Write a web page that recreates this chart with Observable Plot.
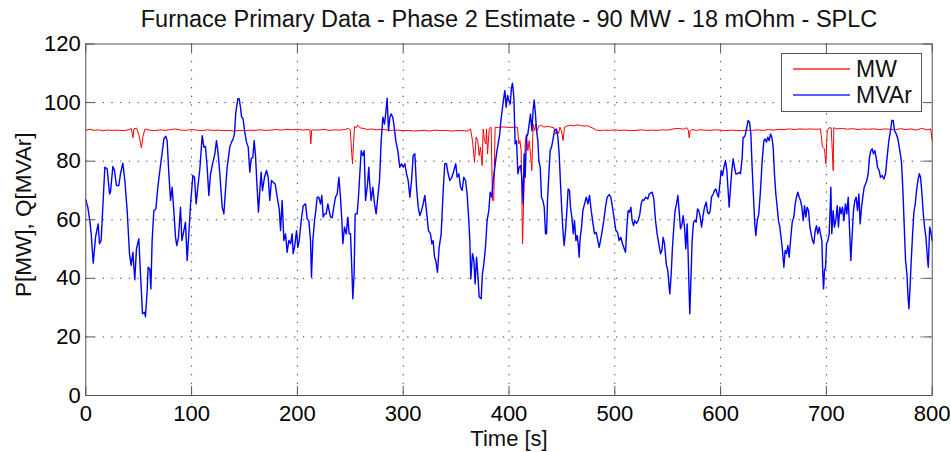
<!DOCTYPE html>
<html>
<head>
<meta charset="utf-8">
<script src="https://cdn.jsdelivr.net/npm/d3@7"></script>
<script src="https://cdn.jsdelivr.net/npm/@observablehq/plot@0.6"></script>
<style>
  body { margin: 0; background: #fff; }
  #wrap { position: relative; width: 951px; height: 452px; font-family: "Liberation Sans", Arial, sans-serif; }
</style>
</head>
<body>
<div id="wrap"></div>
<script>
// ---------- data ----------
const title = "Furnace Primary Data - Phase 2 Estimate - 90 MW - 18 mOhm - SPLC";
const xLabel = "Time [s]";
const yLabel = "P[MW], Q[MVAr]";
const seriesNames = ["MW", "MVAr"];
const seriesColors = ["#ff0000", "#0000ff"];
const xTicks = [0, 100, 200, 300, 400, 500, 600, 700, 800];
const yTicks = [0, 20, 40, 60, 80, 100, 120];

// MVAr (blue)
const tQ = [0,1.9,3.8,5.1,7.0,9.2,10.7,11.7,12.9,14.5,16.4,18.0,20.2,22.4,23.3,25.6,27.1,29.0,31.2,32.8,35.0,36.9,39.1,41.3,42.9,44.5,46.3,47.9,50.1,51.7,53.6,55.5,56.4,58.0,58.9,60.5,61.5,62.7,64.3,66.2,68.1,70.0,72.2,73.8,75.6,76.9,78.5,80.1,81.6,83.2,84.8,86.0,87.6,89.5,90.8,92.7,94.2,95.8,97.4,99.0,101.2,102.7,104.3,105.9,107.8,110.0,111.6,113.1,114.7,116.3,117.9,120.1,122.0,123.5,124.8,126.7,
128.9,130.5,132.0,133.6,136.1,137.7,139.3,140.5,141.8,143.7,145.0,146.2,147.2,148.7,150.0,151.9,153.5,155.0,156.3,157.9,159.1,160.4,161.9,163.2,164.5,165.7,167.0,168.9,170.8,172.4,173.9,175.5,177.1,179.0,180.9,182.8,184.1,185.6,187.2,188.8,190.3,191.9,193.5,195.0,196.0,197.3,199.2,200.4,201.7,203.6,205.5,207.7,209.2,210.8,212.4,213.3,214.6,216.2,217.4,218.7,220.2,221.8,223.1,224.4,225.6,227.2,228.8,230.0,231.3,232.9,234.4,236.0,237.6,239.2,240.7,242.0,243.0,244.5,246.1,247.7,248.9,250.2,251.4,252.4,253.6,254.6,256.5,257.7,259.0,260.3,261.8,263.1,264.4,266.0,267.5,
268.1,269.7,271.3,272.9,274.4,276.0,277.6,279.2,280.8,282.3,283.6,284.8,286.1,287.4,288.6,290.2,291.5,293.0,294.9,296.8,298.4,300.0,301.6,303.1,304.7,306.3,307.9,309.4,311.0,312.6,314.2,315.7,317.3,318.9,320.4,322.0,323.9,325.8,327.0,328.3,329.6,330.8,332.4,334.0,335.9,337.8,339.3,340.9,342.5,344.1,346.0,347.9,349.7,351.0,352.6,354.2,355.7,357.3,358.9,360.4,362.0,363.0,363.9,365.5,366.8,368.0,369.3,370.5,371.8,373.7,374.9,376.2,377.8,379.3,380.9,382.2,383.8,385.0,386.6,388.2,389.7,391.3,
392.0,393.5,395.1,396.1,397.3,398.6,399.8,401.1,402.4,403.3,404.6,405.8,407.1,408.4,409.6,410.9,412.1,413.4,414.3,415.3,416.5,417.8,419.1,420.3,421.6,422.8,423.8,425.0,426.0,427.3,428.2,429.5,430.7,432.0,433.3,434.5,435.5,436.4,437.7,438.9,440.2,441.4,443.0,444.6,446.2,447.4,448.7,449.9,451.2,452.1,453.4,454.7,455.9,457.2,458.1,459.4,460.7,461.9,463.2,464.4,465.4,466.3,467.3,468.6,469.8,471.4,473.0,474.6,476.1,477.7,479.2,480.8,482.4,484.0,485.2,486.5,488.1,489.6,491.2,492.8,494.7,496.2,497.8,499.4,501.0,502.6,504.1,505.7,507.3,508.9,510.1,511.4,512.6,513.9,515.2,516.4,517.7,518.9,520.5,522.1,523.7,524.9,526.2,527.4,529.3,531.2,532.5,533.7,
535.3,536.9,538.5,540.0,541.6,543.2,544.5,545.7,547.0,548.6,550.1,551.4,552.0,553.3,554.5,555.8,557.0,558.3,559.6,560.8,562.1,563.3,564.6,565.9,567.1,568.4,569.3,570.3,570.9,571.9,573.1,574.4,575.6,576.9,578.2,579.4,580.7,582.0,583.2,584.8,586.4,587.6,588.9,590.2,591.4,593.0,594.3,595.5,596.8,598.0,599.3,600.5,601.8,603.1,604.6,605.9,607.1,608.1,609.4,610.6,611.9,613.1,614.4,616.0,617.6,618.8,620.4,621.3,622.6,623.5,624.8,626.0,627.3,628.6,629.8,631.1,632.3,633.3,634.6,636.1,637.7,639.3,640.9,642.1,643.4,644.6,645.9,647.2,648.4,649.7,650.9,652.2,653.5,654.7,656.0,
658.2,659.8,661.0,662.3,663.6,664.8,666.1,667.7,669.2,670.5,671.7,673.0,674.3,675.5,676.8,678.1,679.3,680.6,681.8,683.1,684.4,685.6,686.9,688.1,689.4,690.6,691.9,693.2,694.4,695.7,696.6,697.3,698.2,699.2,700.1,701.4,702.6,703.6,704.2,705.1,706.4,707.6,708.9,710.2,711.4,712.7,713.9,715.2,716.5,718.0,719.3,720.6,721.8,723.1,724.4,725.6,726.9,728.1,729.4,730.7,731.9,733.2,734.4,735.7,737.0,738.2,739.5,740.7,742.0,743.3,744.5,745.8,747.0,748.3,749.9,751.1,752.7,754.3,755.9,757.4,759.0,760.6,761.9,763.1,764.4,766.0,767.6,769.4,771.0,772.3,773.6,774.8,776.1,777.0,778.0,778.9,780.2,781.5,782.7,784.0,785.2,786.5,787.8,789.0,790.3,791.6,792.8,794.1,795.4,796.3,797.6,798.5,800.0];
const Q = [66.8,64.3,59.7,55.2,45.2,54.0,56.9,58.6,51.8,52.9,66.6,77.9,77.4,68.8,69.4,78.2,76.8,71.7,71.7,75.7,79.3,73.4,63.1,48.4,44.4,48.9,39.5,50.1,53.5,41.5,27.9,28.4,26.9,35.8,43.8,43.2,36.4,52.9,63.1,63.7,71.1,76.8,83.0,87.6,88.5,87.0,75.7,66.6,71.1,63.1,54.0,51.2,54.0,64.3,52.9,56.3,59.2,46.1,55.2,65.4,75.1,74.5,65.4,71.1,77.4,88.7,84.8,85.0,77.9,68.3,75.7,79.6,82.5,87.0,83.6,75.7,
64.3,62.0,70.0,77.9,84.8,86.5,87.6,89.3,96.7,101.3,101.3,98.4,95.2,94.4,90.4,86.5,84.8,76.2,80.8,81.3,87.0,81.9,71.1,62.6,70.0,76.2,70.0,74.5,76.8,74.5,66.6,73.4,72.8,72.2,67.7,63.7,56.3,66.6,52.9,55.2,48.9,52.9,51.8,55.2,48.4,50.6,56.3,50.6,52.9,59.7,64.8,65.4,60.3,59.7,52.9,40.4,52.9,59.7,63.1,67.7,67.7,65.4,68.3,60.9,62.0,62.0,65.4,63.1,60.9,60.7,64.3,67.7,68.8,74.5,67.7,59.7,51.8,57.5,55.2,60.9,55.2,55.2,43.8,33.0,41.5,62.0,62.0,67.7,75.7,83.6,81.9,83.6,66.6,71.1,77.9,
73.4,66.6,71.1,65.4,62.0,67.7,73.4,87.0,95.0,92.7,96.7,101.5,90.4,95.0,96.1,95.0,91.6,87.0,83.6,77.9,79.1,77.9,79.1,75.7,73.4,67.7,73.4,81.9,82.5,71.1,64.3,61.4,63.1,65.4,68.3,63.1,56.3,55.2,51.8,52.9,47.2,46.1,42.1,50.6,55.2,70.0,79.1,79.1,75.7,73.4,74.5,76.8,79.1,74.5,75.7,71.1,70.0,74.5,73.4,68.8,59.7,52.9,39.8,48.4,46.1,38.1,47.2,41.5,33.6,33.0,41.5,44.9,50.6,59.7,63.1,69.4,67.7,73.4,77.9,82.5,85.9,89.3,
92.7,97.3,101.8,104.1,98.4,102.4,100.7,99.5,105.2,106.6,101.8,85.9,87.0,75.7,77.9,78.5,74.5,65.4,82.5,74.5,88.2,89.3,92.7,96.1,90.4,97.3,100.9,96.1,90.4,87.0,80.2,77.9,67.7,66.6,64.3,55.2,55.2,66.6,75.7,83.6,84.8,87.0,90.4,91.0,88.2,82.5,72.2,63.1,55.2,51.2,56.3,63.1,70.5,70.0,64.3,60.9,55.2,59.7,52.9,54.6,51.8,47.2,54.0,57.5,63.1,65.4,67.7,65.4,68.3,63.1,59.2,55.2,55.7,52.9,50.6,52.9,56.3,59.7,64.3,67.7,68.6,67.7,64.3,60.3,56.3,55.7,52.9,54.0,51.8,50.1,48.9,57.5,63.1,62.6,64.3,59.7,58.0,59.7,58.8,59.7,62.0,65.4,66.8,66.6,67.7,67.1,68.8,69.1,
69.4,67.1,59.7,55.2,51.8,48.4,49.5,54.0,51.8,44.9,42.7,37.0,34.7,41.5,50.6,57.5,63.1,65.4,68.3,63.1,56.9,58.0,61.4,57.5,50.1,58.6,48.4,34.7,27.9,39.2,52.9,59.2,59.7,59.2,63.7,63.1,60.9,57.5,60.9,64.3,66.0,62.6,62.0,63.1,67.7,68.8,70.0,70.5,68.8,67.7,72.2,76.8,75.1,77.9,80.2,76.8,70.0,64.3,71.1,76.8,80.8,77.9,75.7,75.7,76.2,75.7,81.3,88.2,88.2,89.3,91.6,93.9,93.3,89.3,77.9,67.7,58.6,54.6,59.7,62.0,70.0,80.2,87.0,87.6,86.5,88.2,87.0,89.3,88.2,84.8,75.7,68.8,64.3,59.7,57.5,
50.6,43.8,49.5,48.4,51.2,47.2,52.9,59.2,60.9,65.4,67.7,69.4,67.7,66.6,64.3,59.7,64.8,60.9,64.3,63.1,57.5,55.2,52.9,51.8,56.3,58.0,55.2,57.5,55.2,52.9,41.5,36.4,42.7,43.8,51.8,52.9,55.2,64.3,71.1,55.2,63.1,57.5,59.7,64.8,57.5,64.3,62.0,64.3,59.7,65.4,62.0,67.7,57.5,46.1,55.2,63.1,66.6,67.7,63.1,68.8,58.6,64.3,67.7,71.1,72.2,73.4,75.7,81.3,83.6,84.2,82.5,83.6,81.3,77.9,76.8,74.5,75.1,73.9,75.7,81.3,87.0,90.4,93.9,93.9,90.4,89.3,87.6,83.6,79.6,70.0,57.5,46.1,41.5,34.7,29.6,35.8,46.1,55.2,62.6,65.4,70.0,73.4,75.7,74.5,68.8,62.0,57.5,54.0,47.2,43.8,57.5,56.3,52.9];

// MW (red)
const tP = [0,4,8,12,16,20,25,30,35,40,43,44.5,45.5,48,50.5,52.6,54,56,60,65,70,75,80,85,90,95,100,105,110,115,120,125,130,135,140,145,150,155,160,165,170,175,180,185,190,195,200,205,210,211.8,212.7,213.5,216,220,225,230,235,240,245,248,250,251.3,252.1,253,254,256,257,259,262,266,270,275,280,285,290,295,300,305,310,315,320,325,330,335,340,345,350,355,360,362,363.6,365.5,367.4,369,370.5,371.8,373,374.6,375.6,376.8,378.1,378.7,379.7,381.3,383.1,384.4,385.6,386.9,390,395,400,405,408,409.3,410.3,411.5,412.8,414,415.3,416.5,417.8,419.1,420.3,421.6,422.8,424.1,425.4,426.6,428.2,430,433,436,439,442.4,444,445.6,446.8,448.1,449.6,451.2,452.4,455,458,461,464,467.6,471,474,478.6,482,486,490,495,500,505,510,515,520,525,530,535,540,545,550,555,560,565,568,569.5,570.3,571,573,577,580,585,590,595,600,605,610,615,620,625,630,635,640,645,650,655,660,665,670,675,680,685,690,694.4,696.3,698.2,699.5,700.8,702.6,704.5,705.4,706.4,707,710,715,720,725,730,735,740,745,750,755,760,765,770,775,780,785,790,795,798.5,800];
const P = [90.6,90.9,90.5,90.7,90.4,90.6,90.5,90.6,90.4,90.7,91.1,88.0,91.0,91.3,88.6,84.5,88.5,91.0,90.6,90.4,90.7,90.5,90.8,91.0,90.6,90.5,90.8,90.6,90.4,90.7,90.5,90.6,90.4,90.5,90.3,90.5,90.4,90.6,90.5,90.7,90.5,90.6,90.8,90.6,90.9,90.7,90.9,90.6,90.8,90.7,85.9,90.6,90.7,90.6,90.9,90.5,90.7,90.6,90.8,91.2,90.6,83.0,79.1,86.0,91.8,91.5,92.3,91.4,91.2,90.8,91.0,90.7,90.9,90.6,90.5,90.6,90.4,90.5,90.3,90.4,90.5,90.3,90.6,90.4,90.5,90.3,90.4,90.5,90.3,90.5,91.0,87.0,79.6,88.2,87.0,81.9,84.8,78.5,91.0,87.0,85.9,91.0,82.5,91.0,91.6,66.6,66.6,91.6,91.5,91.7,91.5,91.6,91.6,85.9,87.0,83.6,51.8,68.8,85.9,89.3,83.6,87.0,82.5,76.8,92.7,90.4,92.7,90.4,92.0,92.3,91.6,91.9,91.7,91.4,89.3,90.4,89.3,91.6,90.4,87.0,91.6,92.0,92.3,92.0,92.4,92.2,92.0,92.1,91.4,90.7,90.4,90.6,90.5,90.7,90.5,90.6,90.4,90.5,90.7,90.5,90.6,90.5,90.7,90.6,91.0,91.2,90.9,91.4,90.6,88.0,90.2,90.8,90.5,90.7,90.6,90.5,90.7,90.6,90.4,90.6,90.5,90.4,90.6,90.5,90.7,90.5,90.8,90.6,90.9,90.8,91.0,90.8,91.0,90.9,91.0,90.9,91.0,84.8,84.2,79.1,90.4,91.4,91.4,84.8,76.8,91.4,91.0,91.2,90.9,91.1,90.8,91.0,90.9,91.0,90.8,91.0,90.9,90.7,91.1,90.8,91.0,90.6,91.2,90.7,91.0,87.0];

// ---------- chart ----------
const W = 951, H = 452, mL = 85.3, mR = 19.3, mT = 43.5, mB = 57;
const iw = W - mL - mR, ih = H - mT - mB;
const font = '"Liberation Sans", Arial, sans-serif';
const axisColor = "#555";
const qData = tQ.map((t, i) => ({t, v: Q[i]}));
const pData = tP.map((t, i) => ({t, v: P[i]}));

const chart = Plot.plot({
  width: W, height: H,
  marginLeft: mL, marginRight: mR, marginTop: mT, marginBottom: mB,
  style: {fontFamily: font, background: "#fff", color: "#000"},
  x: {domain: [0, 800], label: null},
  y: {domain: [0, 120], label: null},
  marks: [
    Plot.ruleX(xTicks.slice(1, -1), {x: d => d, stroke: "#444", strokeDasharray: "1.3,7.4"}),
    Plot.ruleY(yTicks.slice(1, -1), {y: d => d, stroke: "#444", strokeDasharray: "1.3,7.4"}),
    Plot.lineY(pData, {x: "t", y: "v", stroke: seriesColors[0], strokeWidth: 1}),
    Plot.lineY(qData, {x: "t", y: "v", stroke: seriesColors[1], strokeWidth: 1.4}),
    Plot.frame({stroke: axisColor}),
    Plot.tickX(xTicks, {x: d => d, insetTop: ih - 9, stroke: axisColor}),
    Plot.tickX(xTicks, {x: d => d, insetBottom: ih - 9, stroke: axisColor}),
    Plot.tickY(yTicks, {y: d => d, insetRight: iw - 9, stroke: axisColor}),
    Plot.tickY(yTicks, {y: d => d, insetLeft: iw - 9, stroke: axisColor}),
    Plot.axisX(xTicks, {tickSize: 0, tickPadding: 10, fontSize: 22, label: null, tickFormat: d => String(d)}),
    Plot.axisY(yTicks, {tickSize: 0, tickPadding: 5, fontSize: 22, label: null, tickFormat: d => String(d)}),
    Plot.text([title], {frameAnchor: "top", lineAnchor: "top", dy: -33.5, fontSize: 23.5, fill: "#111"}),
    Plot.text([xLabel], {frameAnchor: "bottom", lineAnchor: "top", dy: 35, fontSize: 22, fill: "#111"}),
    Plot.text([yLabel], {frameAnchor: "left", textAnchor: "middle", lineAnchor: "middle", rotate: -90, dx: -62, dy: -5, fontSize: 22.5, fill: "#111"})
  ]
});

document.getElementById("wrap").appendChild(chart);

// legend (drawn into the chart's SVG)
const lg = d3.select(chart).append("g").attr("class", "legend").attr("text-anchor", "start");
lg.append("rect")
  .attr("x", 781.5).attr("y", 53.5).attr("width", 140).attr("height", 58)
  .attr("fill", "#fff").attr("stroke", axisColor).attr("stroke-width", 1);
seriesNames.forEach((name, i) => {
  const yy = 69 + i * 26;
  lg.append("line")
    .attr("x1", 793).attr("x2", 850).attr("y1", yy).attr("y2", yy)
    .attr("stroke", seriesColors[i]).attr("stroke-width", 1.6).attr("stroke-opacity", 0.85);
  lg.append("text")
    .attr("x", 856).attr("y", 77.2 + i * 26)
    .attr("text-anchor", "start")
    .attr("font-family", font).attr("font-size", 23).attr("fill", "#111")
    .text(name);
});
</script>
</body>
</html>
